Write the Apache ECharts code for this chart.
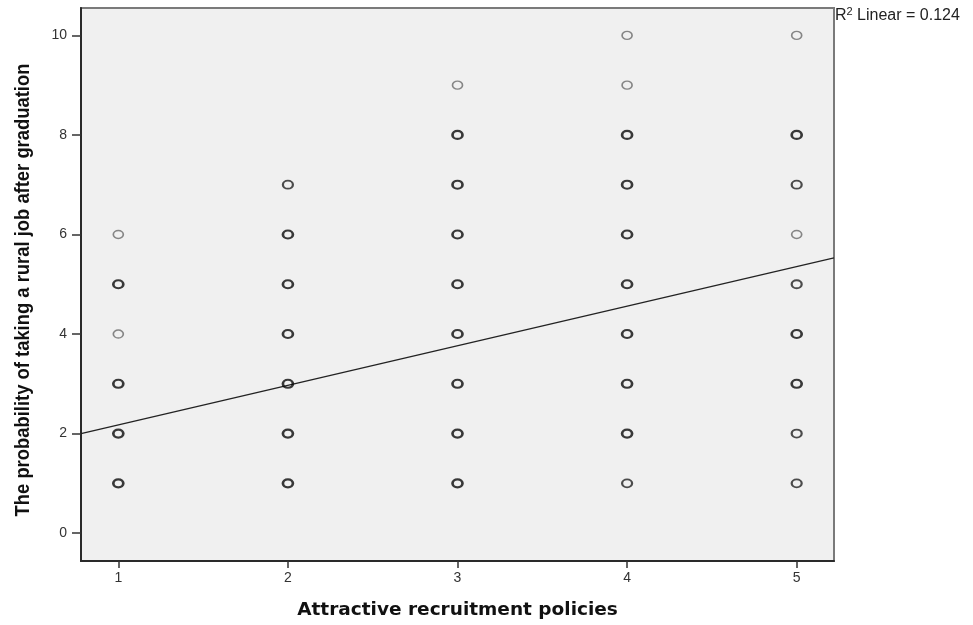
<!DOCTYPE html>
<html>
<head>
<meta charset="utf-8">
<script src="https://cdn.jsdelivr.net/npm/echarts@6/dist/echarts.min.js"></script>
<style>
  html, body { margin: 0; padding: 0; background: #ffffff; }
  #chart { width: 973px; height: 625px; }
</style>
</head>
<body>
<div id="chart"></div>
<script>
// Observed (policy score, probability score) pairs, grouped by how often they occur
const singlePoints = [[1, 6], [1, 4], [4, 10], [4, 9], [3, 9], [5, 10], [5, 6]];
const fewPoints = [[2, 7], [5, 7], [5, 5], [5, 2], [5, 1], [4, 1]];
const manyPoints = [
  [1, 5], [1, 3], [1, 2], [1, 1],
  [2, 6], [2, 5], [2, 4], [2, 3], [2, 2], [2, 1],
  [3, 8], [3, 7], [3, 6], [3, 5], [3, 4], [3, 3], [3, 2], [3, 1],
  [4, 8], [4, 7], [4, 6], [4, 5], [4, 4], [4, 3], [4, 2],
  [5, 8], [5, 4], [5, 3]
];

// Linear fit
const fitIntercept = 1.38;
const fitSlope = 0.795;
const rSquared = 0.124;

const xTicks = [1, 2, 3, 4, 5];
const yTicks = [0, 2, 4, 6, 8, 10];
const xRange = [0.78, 5.22];
const yRange = [-0.56, 10.55];

const xTitle = 'Attractive recruitment policies';
const yTitle = 'The probability of taking a rural job after graduation';

const fitLine = xRange.map(x => [x, fitIntercept + fitSlope * x]);

const chart = echarts.init(document.getElementById('chart'), null, { renderer: 'canvas' });

function markerSeries(data, stroke, width) {
  return {
    type: 'scatter',
    data: data,
    symbol: 'circle',
    symbolSize: [10, 8],
    itemStyle: { color: 'rgba(0,0,0,0)', borderColor: stroke, borderWidth: width },
    z: 3
  };
}

chart.setOption({
  animation: false,
  backgroundColor: '#ffffff',
  grid: {
    left: 81, right: 139, top: 8, bottom: 63,
    show: true, backgroundColor: '#f0f0f0', borderColor: '#7a7a7a', borderWidth: 2
  },
  xAxis: {
    type: 'value',
    min: xRange[0], max: xRange[1],
    name: xTitle,
    nameLocation: 'middle',
    nameGap: 40,
    nameTextStyle: { fontFamily: 'DejaVu Sans', fontWeight: 'bold', fontSize: 18.5, color: '#111' },
    axisLine: { show: true, onZero: false, lineStyle: { color: '#2a2a2a', width: 2 } },
    axisTick: { show: true, customValues: xTicks, length: 7, lineStyle: { color: '#333', width: 1.5 } },
    axisLabel: { customValues: xTicks, fontFamily: 'Liberation Sans', fontSize: 14, color: '#333', margin: 10 },
    splitLine: { show: false }
  },
  yAxis: {
    type: 'value',
    min: yRange[0], max: yRange[1],
    axisLine: { show: true, onZero: false, lineStyle: { color: '#2a2a2a', width: 2 } },
    axisTick: { show: true, customValues: yTicks, length: 9, lineStyle: { color: '#333', width: 1.5 } },
    axisLabel: { customValues: yTicks, fontFamily: 'Liberation Sans', fontSize: 14, color: '#333', margin: 14 },
    splitLine: { show: false }
  },
  series: [
    {
      type: 'line',
      data: fitLine,
      symbol: 'none',
      lineStyle: { color: '#222', width: 1.3 },
      z: 2
    },
    markerSeries(singlePoints, '#6a6a6a', 1.5),
    markerSeries(fewPoints, '#222', 2.0),
    markerSeries(manyPoints, '#0a0a0a', 2.4)
  ],
  graphic: [
    {
      // condensed, rotated y-axis title
      type: 'text',
      x: 23, y: 290,
      rotation: Math.PI / 2,
      scaleX: 0.92,
      style: {
        text: yTitle,
        fontFamily: 'Liberation Sans', fontWeight: 'bold', fontSize: 20,
        fill: '#111', align: 'center', verticalAlign: 'middle'
      }
    },
    {
      type: 'text',
      left: 835, top: 6,
      style: {
        text: '{r|R}{s|2}{r| Linear = ' + rSquared.toFixed(3) + '}',
        rich: {
          r: { fontFamily: 'Liberation Sans', fontSize: 16, fill: '#222', verticalAlign: 'bottom' },
          s: { fontFamily: 'Liberation Sans', fontSize: 11, fill: '#222', verticalAlign: 'top', padding: [0, 0, 7, 0] }
        }
      }
    }
  ]
});
</script>
</body>
</html>
